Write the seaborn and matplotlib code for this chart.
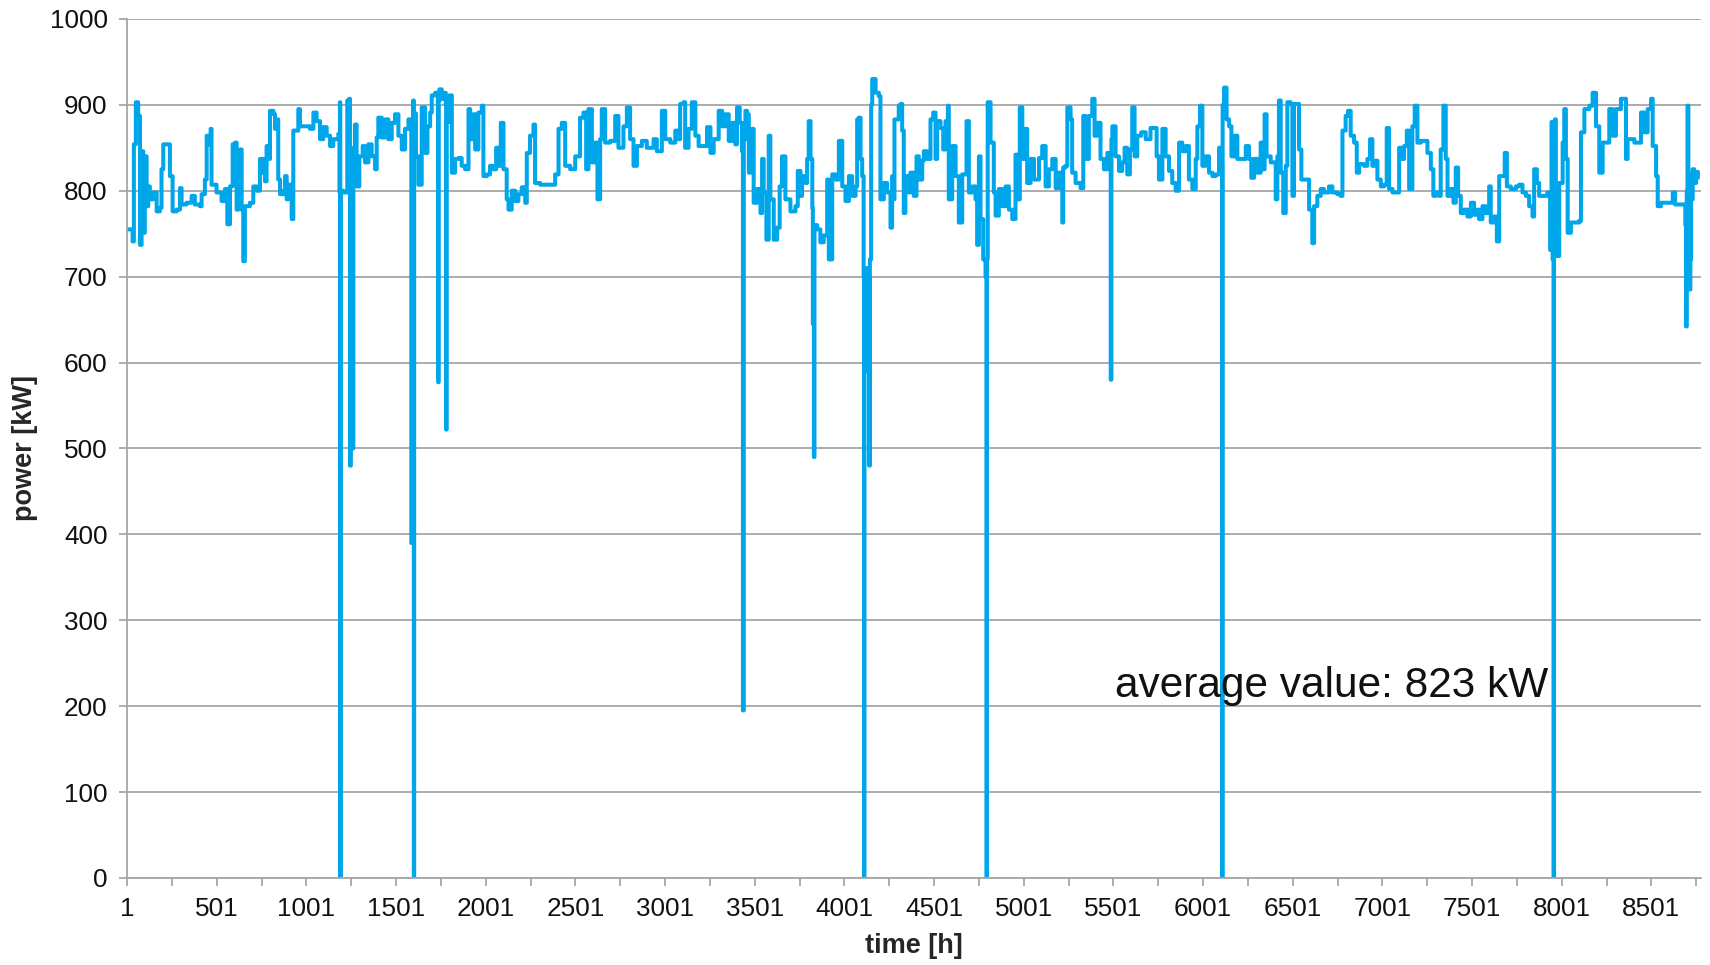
import seaborn as sns
import matplotlib.pyplot as plt

# hourly power readings (hour of year, kW)
hours = [
    1, 32, 39, 50, 63, 73, 82, 91, 100, 110, 119, 128, 147, 166, 184, 193,
    203, 231, 240, 255, 277, 296, 305, 333, 361, 379, 407, 417, 435, 445,
    454, 467, 472, 500, 528, 547, 560, 575, 590, 603, 612, 621, 631, 640,
    649, 658, 686, 705, 724, 742, 751, 761, 770, 779, 789, 798, 817, 826,
    835, 844, 854, 872, 882, 891, 900, 919, 928, 947, 956, 965, 1003, 1021,
    1040, 1058, 1077,
    1095, 1114, 1133, 1151, 1179, 1186, 1188, 1190, 1192, 1207, 1229, 1240,
    1244, 1249, 1254, 1259, 1263, 1272, 1281, 1296, 1315, 1328, 1347, 1365,
    1384, 1393, 1402, 1421, 1440, 1458, 1477, 1495, 1514, 1533, 1551, 1570,
    1583, 1586, 1590, 1596, 1600, 1602, 1612, 1626, 1644, 1663, 1676, 1691,
    1700, 1719, 1734, 1736, 1738, 1743, 1756, 1774, 1778, 1780, 1783, 1799,
    1812, 1830, 1849, 1867, 1886, 1905, 1914, 1932, 1942, 1960, 1979, 1988,
    2007, 2025, 2044, 2059, 2072, 2085, 2100, 2118,
    2128, 2146, 2165, 2183, 2202, 2221, 2230, 2248, 2267, 2276, 2304, 2360,
    2388, 2407, 2425, 2444, 2472, 2500, 2527, 2546, 2561, 2574, 2593, 2611,
    2624, 2639, 2648, 2667, 2695, 2723, 2741, 2769, 2788, 2806, 2825, 2844,
    2872, 2899, 2937, 2955, 2983, 3002, 3030, 3058, 3076, 3085, 3104, 3113,
    3132, 3150,
    3170, 3188, 3216, 3235, 3254, 3272, 3300, 3319, 3337, 3356, 3375, 3393,
    3402, 3417, 3430, 3435, 3440, 3449, 3458, 3468, 3477, 3486, 3495, 3514,
    3533, 3542, 3551, 3566, 3579, 3588, 3607, 3626, 3640, 3653, 3672, 3700,
    3728, 3741, 3756, 3765, 3784, 3793, 3802, 3812, 3822, 3825, 3831, 3834,
    3849, 3867, 3886, 3905, 3914, 3933, 3951, 3970, 3989, 4007, 4026, 4044,
    4063, 4072, 4081, 4091, 4100, 4108, 4110, 4113, 4120, 4125, 4130, 4135,
    4139, 4143, 4150, 4156, 4175, 4193, 4202, 4221,
    4239, 4258, 4267, 4276, 4280, 4304, 4314, 4323, 4332, 4341, 4360, 4369,
    4388, 4403, 4416, 4435, 4444, 4462, 4481, 4496, 4509, 4518, 4537, 4552,
    4565, 4578, 4583, 4602, 4621, 4639, 4658, 4682, 4695, 4714, 4732, 4741,
    4751, 4760, 4775, 4788, 4793, 4796, 4800, 4816, 4834, 4844, 4862, 4881,
    4900, 4918, 4937, 4955, 4968, 4979, 4993, 5006, 5020, 5039, 5058, 5086,
    5104, 5123, 5141, 5160, 5179, 5197, 5216, 5221, 5234, 5244, 5262,
    5271, 5290, 5318, 5333, 5346, 5364, 5383, 5396, 5411, 5429, 5448, 5467,
    5481, 5486, 5490, 5495, 5513, 5532, 5550, 5563, 5578, 5593, 5606, 5619,
    5634, 5656, 5681, 5708, 5727, 5742, 5755, 5774, 5792, 5811, 5829, 5848,
    5867, 5885, 5904, 5922, 5941, 5960, 5969, 5984, 5997, 6015, 6034, 6053,
    6071, 6090, 6104, 6107, 6110, 6118, 6132, 6146, 6159, 6177, 6192, 6214,
    6239, 6257, 6270, 6285, 6304, 6322,
    6331, 6344, 6355, 6378, 6396, 6406, 6415, 6424, 6434, 6448, 6462, 6471,
    6489, 6499, 6508, 6523, 6536, 6549, 6573, 6592, 6610, 6620, 6638, 6657,
    6675, 6703, 6722, 6750, 6768, 6778, 6796, 6809, 6824, 6843, 6858, 6871,
    6899, 6917, 6932, 6945, 6964, 6973, 6992, 7010, 7025, 7038, 7057, 7085,
    7094, 7107, 7122, 7137, 7150, 7168, 7181, 7196, 7215, 7237, 7252, 7271,
    7285, 7299, 7317, 7326, 7341, 7354, 7364, 7382, 7397,
    7410, 7423, 7438, 7456, 7475, 7494, 7512, 7531, 7540, 7559, 7577, 7596,
    7605, 7624, 7639, 7652, 7670, 7683, 7695, 7717, 7745, 7763, 7782, 7801,
    7819, 7838, 7847, 7862, 7875, 7903, 7921, 7936, 7944, 7950, 7955, 7958,
    7963, 7968, 7974, 7987, 8006, 8015, 8024, 8034, 8052, 8099, 8108,
    8127, 8155, 8173, 8192, 8210, 8229, 8266, 8285, 8303, 8331, 8359, 8368,
    8406, 8424, 8443, 8461, 8480, 8499, 8508, 8527, 8536, 8554, 8610, 8620,
    8633, 8685, 8690, 8694, 8698, 8702, 8707, 8713, 8718, 8722, 8731, 8740,
    8750, 8760,
]
power_kw = [
    755, 741, 854, 903, 887, 737, 846, 751, 840, 782, 805, 790, 798, 776, 780, 825,
    854, 854, 817, 776, 778, 803, 784, 786, 794, 784, 782, 796, 813, 864,
    854, 872, 807, 798, 788, 802, 761, 805, 854, 856, 778, 829, 848, 778,
    718, 782, 786, 805, 800, 837, 821, 837, 811, 852, 837, 893, 889, 872,
    883, 813, 796, 800, 817, 790, 807, 767, 870, 870, 895, 875, 875, 872,
    891, 881, 860,
    874, 864, 852, 860, 866, 798, 903, 0, 800, 798, 905, 907,
    480, 800, 820, 500, 850, 877, 805, 840, 852, 833, 854, 840,
    825, 862, 885, 862, 883, 860, 879, 889, 864, 848, 872, 883,
    877, 390, 860, 905, 0, 890, 840, 807, 897, 844, 875, 891,
    911, 914, 900, 577, 905, 918, 907, 914, 900, 522, 880, 911,
    821, 837, 838, 829, 825, 895, 860, 889, 848, 891, 899, 817,
    819, 829, 825, 850, 829, 879, 825, 790,
    778, 800, 788, 796, 804, 786, 844, 864, 877, 809, 807, 807,
    819, 872, 879, 829, 825, 840, 885, 891, 825, 895, 833, 856,
    790, 860, 895, 856, 858, 887, 850, 875, 897, 860, 829, 852,
    858, 850, 860, 846, 893, 860, 856, 870, 860, 901, 903, 850,
    872, 903,
    864, 852, 852, 874, 844, 860, 893, 875, 889, 858, 879, 854,
    897, 879, 846, 195, 860, 893, 889, 821, 848, 872, 786, 802,
    774, 837, 798, 743, 864, 790, 743, 757, 805, 840, 790, 776,
    782, 823, 794, 817, 809, 837, 881, 837, 780, 645, 490, 760,
    755, 740, 748, 813, 720, 819, 813, 858, 805, 788, 817, 794,
    805, 883, 885, 837, 817, 700, 0, 700, 600, 710, 590, 700,
    480, 720, 900, 930, 914, 910, 790, 809,
    798, 757, 817, 790, 883, 899, 901, 870, 774, 817, 798, 821,
    794, 840, 813, 835, 846, 837, 883, 891, 837, 881, 873, 848,
    881, 899, 790, 852, 817, 763, 819, 881, 798, 805, 790, 737,
    840, 767, 720, 700, 0, 720, 903, 856, 798, 771, 802, 782,
    805, 778, 767, 842, 790, 897, 837, 872, 809, 837, 813, 838,
    852, 805, 825, 837, 803, 821, 763, 827, 829, 897, 883,
    821, 809, 803, 887, 837, 887, 907, 864, 879, 837, 825, 844,
    837, 580, 860, 875, 840, 823, 833, 850, 819, 848, 897, 840,
    864, 868, 860, 873, 873, 840, 813, 872, 840, 823, 809, 800,
    856, 846, 852, 813, 802, 837, 875, 899, 829, 840, 821, 817,
    819, 850, 830, 0, 900, 920, 883, 875, 840, 864, 837, 837,
    852, 837, 815, 837, 821, 856,
    825, 889, 840, 833, 833, 790, 840, 905, 821, 774, 829, 903,
    901, 794, 901, 901, 848, 813, 813, 778, 739, 782, 794, 802,
    798, 805, 798, 796, 794, 870, 887, 893, 864, 856, 821, 831,
    829, 837, 860, 829, 835, 813, 805, 807, 873, 802, 798, 798,
    850, 837, 852, 870, 802, 875, 899, 856, 858, 858, 844, 825,
    794, 798, 794, 848, 899, 837, 794, 802, 786,
    827, 794, 774, 778, 770, 786, 772, 778, 767, 782, 774, 805,
    763, 770, 741, 817, 817, 844, 805, 802, 805, 807, 798, 794,
    782, 770, 825, 809, 794, 794, 798, 731, 880, 720, 0, 725,
    883, 740, 724, 809, 856, 895, 837, 751, 763, 765, 868,
    895, 899, 914, 875, 821, 856, 895, 864, 895, 907, 837, 860,
    856, 856, 891, 868, 895, 907, 852, 817, 782, 786, 786, 798,
    784, 784, 760, 642, 800, 899, 820, 685, 720, 790, 825, 809,
    815, 822,
]

label_ticks = list(range(1, 8761, 500))
between_ticks = list(range(251, 8761, 500))
average_text = "average value: 823 kW"


def main():
    sns.set_style("white")
    plt.rcParams["font.family"] = ["Liberation Sans", "DejaVu Sans"]

    fig = plt.figure(figsize=(17.1, 9.65), dpi=100)
    ax = fig.add_axes([0.0743, 0.0902, 0.9205, 0.8902])

    # hourly values hold until the next reading, so draw as steps
    sns.lineplot(x=hours, y=power_kw, ax=ax, color="#00A6EA",
                 linewidth=2.9, estimator=None, sort=False,
                 drawstyle="steps-post")

    ax.set_xlim(1, 8778)
    ax.set_ylim(0, 1000)
    ax.set_yticks(range(0, 1001, 100))
    ax.set_xticks(label_ticks)
    ax.set_xticks(between_ticks, minor=True)

    grey = "#A6A6A6"
    ax.set_axisbelow(True)
    ax.yaxis.grid(True, color=grey, linewidth=1.3)
    ax.xaxis.grid(False)
    for side in ["top", "right"]:
        ax.spines[side].set_visible(False)
    for side in ["left", "bottom"]:
        ax.spines[side].set_color(grey)
        ax.spines[side].set_linewidth(1.3)

    ax.tick_params(axis="both", which="both", direction="out", length=6,
                   width=1.3, color=grey, labelsize=18.8, labelcolor="#111111",
                   pad=8)
    ax.tick_params(axis="x", which="both", bottom=True)
    ax.tick_params(axis="y", left=True)

    ax.set_xlabel("time [h]", fontsize=19.5, fontweight="bold", labelpad=8)
    ax.set_ylabel("power [kW]", fontsize=19.5, fontweight="bold", labelpad=8)

    ax.text(5510, 211, average_text, fontsize=30.5, va="baseline",
            color="#111111")

    fig.savefig("out.png", dpi=100)


if __name__ == "__main__":
    main()
